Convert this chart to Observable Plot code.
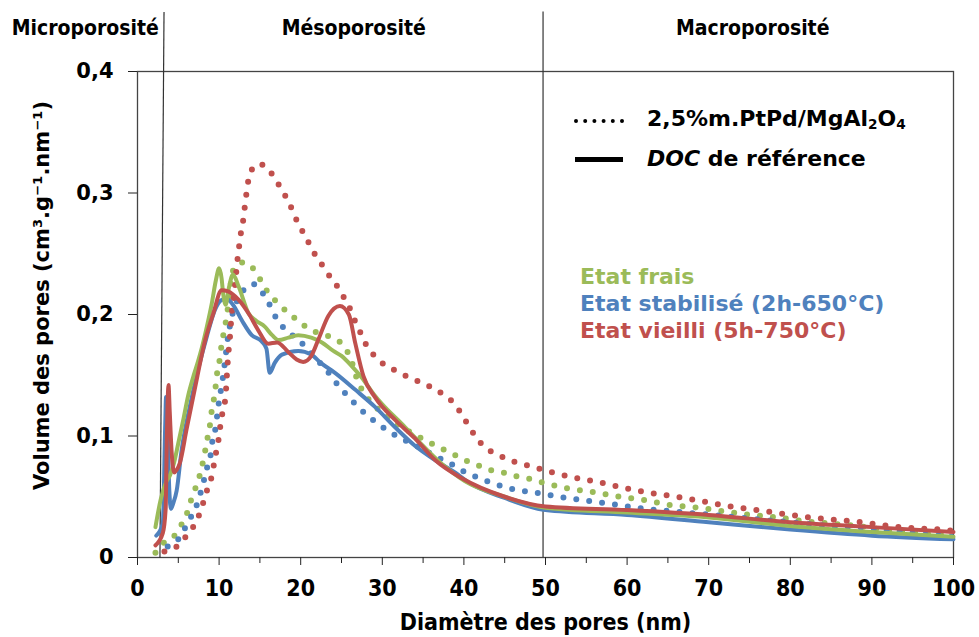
<!DOCTYPE html>
<html>
<head>
<meta charset="utf-8">
<script src="https://cdn.jsdelivr.net/npm/d3@7"></script>
<script src="https://cdn.jsdelivr.net/npm/@observablehq/plot@0.6"></script>
<style>
  body { margin: 0; background: #fff; }
  #wrap { position: relative; width: 979px; height: 637px; overflow: hidden; }
  .lg { position: absolute; font-family: "DejaVu Sans", Verdana, sans-serif; font-weight: bold; font-size: 22px; line-height: 1.2; white-space: nowrap; }
  .lg sub { font-size: 0.62em; vertical-align: -0.25em; line-height: 0; }
</style>
</head>
<body>
<div id="wrap">
  <div id="chart"></div>
  <svg class="lgs" style="position:absolute;left:573px;top:116px" width="52" height="10">
    <line x1="3" y1="5" x2="49" y2="5" stroke="#000" stroke-width="4" stroke-linecap="round" stroke-dasharray="0 9.2"></line>
  </svg>
  <div class="lg" style="left:647px;top:106px;color:#000">2,5%m.PtPd/MgAl<sub>2</sub>O<sub>4</sub></div>
  <div style="position:absolute;left:575px;top:157px;width:48px;height:5px;background:#000"></div>
  <div class="lg" style="left:647px;top:146px;color:#000"><i>DOC</i> de référence</div>
  <div class="lg" style="left:580px;top:264px;color:#9BBB59">Etat frais</div>
  <div class="lg" style="left:580px;top:291px;color:#4F81BD">Etat stabilisé (2h-650°C)</div>
  <div class="lg" style="left:580px;top:318px;color:#C0504D">Etat vieilli (5h-750°C)</div>
</div>
<script>
// ---- tick labels / annotations ----
const xTicks = [0, 10, 20, 30, 40, 50, 60, 70, 80, 90, 100];
const xMinorTicks = [5, 15, 25, 35, 45, 55, 65, 75, 85, 95];
const yTicks = [0, 0.1, 0.2, 0.3, 0.4];
const xLabel = "Diamètre des pores (nm)";
const yLabel = "Volume des pores (cm³.g⁻¹.nm⁻¹)";
const regionNames = ["Microporosité", "Mésoporosité", "Macroporosité"];
const regionCenters = [-6.4, 26.5, 75.4];
const microMesoBoundary = [{x1: 2.75, x2: 3.25}];
const mesoMacroBoundary = [49.7];
const boundaryTop = 0.449;

// ---- 2,5%m.PtPd/MgAl2O4 (dotted) ----
const dotFrais = [[2.2,0.004],[3.2,0.012],[4.4,0.017],[5.3,0.026],[6.0,0.035],[6.5,0.046],[7.1,0.057],[7.6,0.067],[8.0,0.078],[8.3,0.088],[8.6,0.099],[8.9,0.110],[9.1,0.121],[9.4,0.132],[9.6,0.142],[9.8,0.154],[10.1,0.164],[10.3,0.175],[10.6,0.186],[10.9,0.197],[11.2,0.212],[11.5,0.229],[11.9,0.239],[13.0,0.243],[14.4,0.236],[15.2,0.227],[16.1,0.217],[17.3,0.209],[18.5,0.201],[19.7,0.195],[21.0,0.188],[22.6,0.184],[24.1,0.180],[25.3,0.174],[26.1,0.164],[27.0,0.145],[27.9,0.134],[29.0,0.125],[30.3,0.118],[32.0,0.109],[34.3,0.100],[35.7,0.095],[37.2,0.090],[38.7,0.085],[40.2,0.080],[41.7,0.076],[43.2,0.072],[44.8,0.070],[46.3,0.067],[47.9,0.065],[50.0,0.061],[52.6,0.057],[55.8,0.054],[59.1,0.050],[62.3,0.047],[65.5,0.043],[68.7,0.041],[71.9,0.038],[75.2,0.035],[78.4,0.033],[81.6,0.030],[84.8,0.028],[88.1,0.026],[91.3,0.023],[94.6,0.021],[97.8,0.019],[100,0.018]];
const dotStab = [[3.7,0.009],[5.0,0.015],[5.8,0.024],[6.6,0.034],[7.3,0.044],[7.8,0.055],[8.2,0.065],[8.6,0.076],[9.0,0.086],[9.2,0.097],[9.6,0.108],[9.8,0.119],[10.0,0.129],[10.3,0.141],[10.55,0.152],[10.8,0.166],[11.1,0.182],[11.45,0.195],[12.0,0.208],[12.6,0.216],[13.6,0.224],[14.3,0.225],[14.9,0.221],[15.9,0.212],[16.6,0.202],[17.4,0.193],[18.6,0.185],[19.9,0.178],[20.9,0.171],[22.1,0.162],[23.2,0.154],[24.2,0.145],[25.2,0.137],[26.3,0.129],[27.5,0.121],[28.7,0.114],[30.1,0.107],[31.5,0.101],[32.9,0.096],[34.4,0.091],[37.2,0.081],[38.7,0.076],[40.2,0.070],[41.6,0.066],[45.0,0.058],[50.0,0.052],[52.6,0.049],[55.8,0.046],[59.1,0.043],[62.3,0.040],[65.5,0.038],[70.4,0.035],[75.0,0.032],[80.0,0.029],[85.0,0.026],[90.0,0.024],[95.0,0.020],[100,0.017]];
const dotVieilli = [[3.3,0.005],[4.8,0.009],[5.9,0.017],[6.9,0.026],[7.6,0.036],[8.1,0.046],[8.6,0.057],[9.1,0.067],[9.4,0.078],[9.7,0.089],[10.0,0.100],[10.2,0.111],[10.5,0.122],[10.8,0.133],[10.9,0.144],[11.0,0.155],[11.1,0.165],[11.25,0.176],[11.4,0.187],[11.5,0.198],[11.7,0.209],[11.9,0.220],[12.2,0.242],[12.4,0.253],[12.6,0.264],[12.9,0.275],[13.1,0.286],[13.3,0.297],[13.5,0.307],[13.9,0.318],[14.9,0.324],[16.2,0.318],[17.1,0.309],[18.0,0.299],[18.7,0.290],[19.4,0.279],[20.1,0.270],[20.9,0.260],[21.7,0.250],[22.6,0.241],[23.5,0.232],[24.5,0.223],[25.3,0.214],[26.1,0.204],[26.7,0.194],[27.4,0.184],[28.1,0.174],[29.2,0.165],[30.4,0.158],[31.9,0.153],[33.3,0.148],[34.8,0.144],[36.3,0.139],[37.7,0.133],[38.9,0.126],[39.8,0.117],[40.7,0.107],[41.6,0.098],[42.7,0.090],[44.1,0.085],[45.6,0.080],[47.2,0.077],[48.8,0.074],[50.3,0.071],[53.4,0.066],[56.5,0.062],[59.8,0.057],[63.0,0.053],[66.1,0.050],[69.4,0.046],[72.7,0.042],[75.9,0.039],[79.1,0.036],[82.4,0.033],[85.6,0.031],[88.8,0.029],[92.1,0.026],[95.3,0.024],[98.6,0.023],[100,0.022]];

// ---- DOC de référence (solid) ----
const solFrais = [[2.2,0.025],[2.85,0.048],[3.5,0.062],[4.0,0.068],[4.4,0.076],[5.0,0.094],[5.6,0.113],[6.2,0.133],[6.8,0.148],[7.4,0.161],[7.9,0.173],[8.5,0.190],[9.1,0.209],[9.6,0.228],[10.0,0.238],[10.3,0.230],[10.5,0.217],[10.8,0.208],[11.2,0.222],[11.7,0.233],[12.4,0.223],[13.6,0.201],[14.5,0.195],[15.6,0.190],[16.5,0.183],[17.3,0.179],[18.5,0.181],[19.7,0.183],[21.3,0.181],[22.6,0.177],[24.0,0.170],[25.0,0.166],[26.2,0.158],[27.5,0.148],[29.0,0.134],[30.0,0.126],[32.4,0.110],[34.4,0.096],[37.3,0.077],[40.1,0.063],[45,0.050],[50,0.041],[60,0.037],[70,0.033],[80,0.026],[90,0.021],[100,0.017]];
const solStab = [[2.3,0.018],[3.1,0.028],[3.4,0.110],[3.5,0.132],[3.65,0.110],[3.9,0.055],[4.1,0.040],[4.4,0.045],[4.8,0.055],[5.4,0.088],[6.4,0.124],[7.4,0.154],[8.5,0.182],[9.5,0.204],[10.3,0.212],[10.9,0.213],[11.7,0.208],[12.8,0.195],[14.0,0.183],[15.2,0.178],[15.8,0.172],[16.2,0.152],[16.8,0.160],[17.7,0.167],[19.7,0.170],[21.3,0.167],[22.5,0.160],[24.2,0.152],[26.7,0.138],[29.1,0.124],[31.6,0.107],[34.0,0.092],[36.5,0.080],[38.9,0.070],[40.5,0.062],[45,0.049],[50,0.039],[60,0.035],[70,0.029],[80,0.023],[90,0.018],[100,0.015]];
const solVieilli = [[2.2,0.010],[3.1,0.020],[3.45,0.040],[3.6,0.100],[3.8,0.142],[3.95,0.120],[4.2,0.085],[4.5,0.070],[4.8,0.072],[5.2,0.078],[6.0,0.105],[7.0,0.138],[8.3,0.179],[9.3,0.201],[10.3,0.220],[11.1,0.219],[12.4,0.212],[13.6,0.201],[14.8,0.187],[16.0,0.176],[17.1,0.177],[18.5,0.169],[19.5,0.163],[20.3,0.161],[21.3,0.166],[22.2,0.180],[23.4,0.199],[24.8,0.207],[25.9,0.200],[26.7,0.176],[27.7,0.149],[29.1,0.132],[31.6,0.113],[34.0,0.098],[36.5,0.080],[39.8,0.065],[45,0.050],[50,0.042],[60,0.039],[70,0.035],[80,0.029],[90,0.025],[100,0.021]];

const GREEN = "#9BBB59", BLUE = "#4F81BD", RED = "#C0504D";
const condensed = "'DejaVu Sans Condensed', 'DejaVu Sans', sans-serif";
const regular = "'DejaVu Sans', Verdana, sans-serif";

const dotted = (data, color) => Plot.line(data, {
  x: d => d[0], y: d => d[1], stroke: color, strokeWidth: 6,
  strokeDasharray: "0 13", strokeLinecap: "round", curve: "monotone-x"
});
const solid = (data, color) => Plot.line(data, {
  x: d => d[0], y: d => d[1], stroke: color, strokeWidth: 4,
  strokeLinejoin: "round", curve: "monotone-x"
});

const fmtY = d => d === 0 ? "0" : d.toFixed(1).replace(".", ",");

const chart = Plot.plot({
  width: 979,
  height: 637,
  marginLeft: 137,
  marginRight: 26,
  marginTop: 71,
  marginBottom: 80,
  style: { background: "#fff", overflow: "visible" },
  x: { domain: [0, 100] },
  y: { domain: [0, 0.4] },
  marks: [
    Plot.frame({ stroke: "#444", strokeWidth: 1.3 }),
    Plot.link(microMesoBoundary, { x1: "x1", x2: "x2", y1: () => 0, y2: () => boundaryTop, stroke: "#333", strokeWidth: 1.2 }),
    Plot.ruleX(mesoMacroBoundary, { y1: 0, y2: boundaryTop, stroke: "#333", strokeWidth: 1.2 }),
    dotted(dotFrais, GREEN),
    dotted(dotStab, BLUE),
    dotted(dotVieilli, RED),
    solid(solStab, BLUE),
    solid(solFrais, GREEN),
    solid(solVieilli, RED),
    Plot.axisY({ ticks: yTicks, tickSize: 9, tickPadding: 15, tickFormat: fmtY, label: null,
      fontSize: 21, fontWeight: "bold", fontFamily: regular, fill: "#000", stroke: "#222" }),
    Plot.axisX({ ticks: xTicks, tickSize: 8, tickPadding: 14, label: null,
      fontSize: 23, fontWeight: "bold", fontFamily: condensed, fill: "#000", stroke: "#222" }),
    Plot.axisX({ ticks: xMinorTicks, tickSize: 6, tickFormat: () => "", label: null, stroke: "#222" }),
    Plot.text([xLabel], { text: d => d, frameAnchor: "bottom", lineAnchor: "middle", dy: 65, fontSize: 23,
      fontWeight: "bold", fontFamily: condensed, fill: "#000" }),
    Plot.text([yLabel], { text: d => d, frameAnchor: "left", textAnchor: "middle", lineAnchor: "middle",
      rotate: -90, dx: -95, dy: -19,
      fontSize: 21, fontWeight: "bold", fontFamily: regular, fill: "#000" }),
    Plot.text(regionNames, { x: (d, i) => regionCenters[i], text: d => d, frameAnchor: "top",
      lineAnchor: "middle", textAnchor: "middle", dy: -43,
      fontSize: 21, fontWeight: "bold", fontFamily: condensed, fill: "#000" })
  ]
});
document.getElementById("chart").appendChild(chart);
</script>
</body>
</html>
